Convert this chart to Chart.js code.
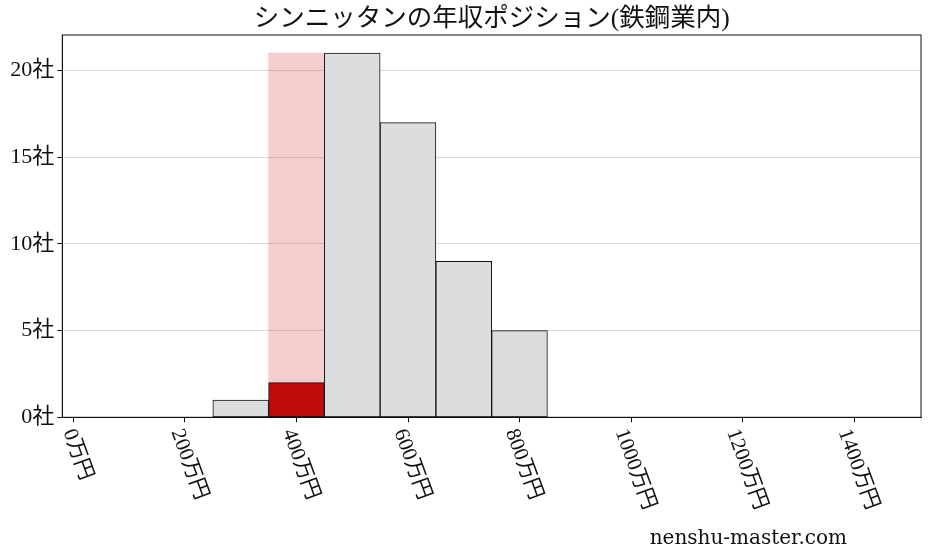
<!DOCTYPE html>
<html lang="ja">
<head>
<meta charset="utf-8">
<title>シンニッタンの年収ポジション(鉄鋼業内)</title>
<script src="https://cdn.jsdelivr.net/npm/chart.js@4.4.1/dist/chart.umd.min.js"></script>
<style>
    html, body { margin: 0; padding: 0; background: #fff; }
    #chart { display: block; }
</style>
</head>
<body>
<canvas id="chart" width="928" height="557"></canvas>
<script>
// 年収の階級（中央値, 万円）と社数
const binCenters = [300, 400, 500, 600, 700, 800];
const companyCounts = [1, 2, 21, 17, 9, 5];
const highlightBin = 400;
const xTickValues = [0, 200, 400, 600, 800, 1000, 1200, 1400];
const yTickValues = [0, 5, 10, 15, 20];
const chartTitle = 'シンニッタンの年収ポジション(鉄鋼業内)';
const siteName = 'nenshu-master.com';

const FONT = "'Liberation Serif', 'Noto Sans CJK JP', serif";
const GREY = '#dcdddf';
const RED = '#c00a0b';
const BAND = 'rgba(200, 30, 35, 0.22)';

const maxCount = Math.max(...companyCounts);

// タイトル・x軸ラベル・枠線・サイト名を描く
const decorations = {
    id: 'decorations',
    afterDatasetsDraw(chart) {
        const { ctx, chartArea: area } = chart;
        ctx.save();
        ctx.strokeStyle = '#111';
        ctx.lineWidth = 1;
        ctx.strokeRect(area.left, area.top, area.right - area.left, area.bottom - area.top);
        ctx.restore();
    },
    afterDraw(chart) {
        const { ctx, chartArea: area } = chart;
        const xScale = chart.scales.x;

        ctx.save();
        ctx.fillStyle = '#111';
        ctx.font = '25.5px ' + FONT;
        ctx.textAlign = 'center';
        ctx.textBaseline = 'middle';
        ctx.fillText(chartTitle, (area.left + area.right) / 2, 19);

        // x軸ラベル（時計回りに70度）
        const angle = 70 * Math.PI / 180;
        const fs = 21;
        ctx.font = fs + 'px ' + FONT;
        xTickValues.forEach(v => {
            const label = v + '万円';
            const w = ctx.measureText(label).width;
            const bh = w * Math.sin(angle) + fs * Math.cos(angle);
            const px = xScale.getPixelForValue(v) + 4;
            const py = area.bottom + 9 + bh / 2;
            ctx.save();
            ctx.translate(px, py);
            ctx.rotate(angle);
            ctx.fillText(label, 0, 0);
            ctx.restore();
        });

        ctx.font = "20px 'DejaVu Serif', serif";
        ctx.textAlign = 'right';
        ctx.textBaseline = 'alphabetic';
        ctx.fillText(siteName, 847, 544);
        ctx.restore();
    }
};

new Chart(document.getElementById('chart'), {
    type: 'bar',
    data: {
        datasets: [{
            label: '社数',
            data: binCenters.map((x, i) => ({ x, y: companyCounts[i] })),
            backgroundColor: binCenters.map(x => x === highlightBin ? RED : GREY),
            borderColor: '#111',
            borderWidth: 1,
            borderSkipped: false,
            grouped: false,
            barPercentage: 1,
            categoryPercentage: 1,
            order: 1
        }, {
            label: '位置',
            data: [{ x: highlightBin, y: maxCount }],
            backgroundColor: BAND,
            borderWidth: 0,
            grouped: false,
            barPercentage: 1,
            categoryPercentage: 1,
            order: 2
        }]
    },
    options: {
        responsive: false,
        animation: false,
        devicePixelRatio: 1,
        layout: { padding: { top: 35, right: 7, left: 0, bottom: 0 } },
        plugins: {
            legend: { display: false },
            title: { display: false },
            tooltip: { enabled: false }
        },
        scales: {
            x: {
                type: 'linear',
                min: -20,
                max: 1520,
                offset: false,
                afterBuildTicks: scale => { scale.ticks = xTickValues.map(value => ({ value })); },
                afterFit: scale => { scale.height = 139.7; },
                ticks: { display: false },
                grid: { display: true, offset: false, drawOnChartArea: false, tickLength: 5, tickColor: '#111' },
                border: { display: true, color: '#111', width: 1 }
            },
            y: {
                min: 0,
                max: maxCount * 1.05,
                afterBuildTicks: scale => { scale.ticks = yTickValues.map(value => ({ value })); },
                afterFit: scale => { scale.width = 62.3; },
                ticks: {
                    callback: v => v + '社',
                    font: { family: FONT, size: 22 },
                    color: '#111',
                    padding: 3
                },
                grid: { color: '#dcdcdc', lineWidth: 1, tickLength: 5, tickColor: '#111' },
                border: { display: true, color: '#111', width: 1 }
            }
        }
    },
    plugins: [decorations]
});
</script>
</body>
</html>
